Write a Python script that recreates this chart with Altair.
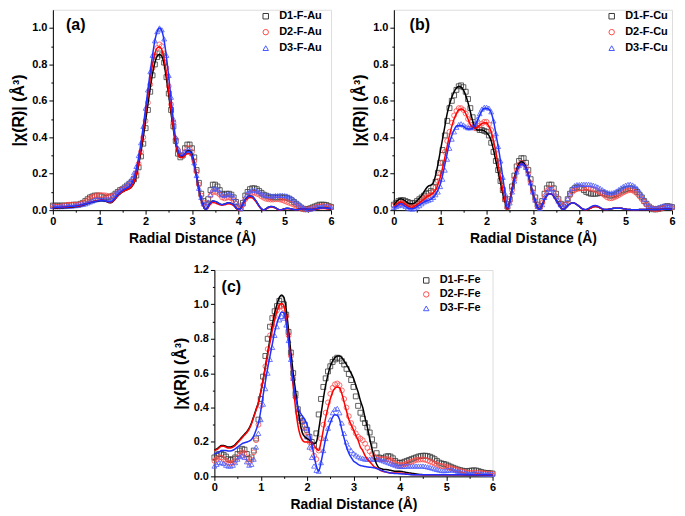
import altair as alt
import pandas as pd

# ---------------- data ----------------
R = [0.00, 0.05, 0.10, 0.15, 0.20, 0.25, 0.30, 0.35, 0.40, 0.45,
     0.50, 0.55, 0.60, 0.65, 0.70, 0.75, 0.80, 0.85, 0.90, 0.95,
     1.00, 1.05, 1.10, 1.15, 1.20, 1.25, 1.30, 1.35, 1.40, 1.45,
     1.50, 1.55, 1.60, 1.65, 1.70, 1.75, 1.80, 1.85, 1.90, 1.95,
     2.00, 2.05, 2.10, 2.15, 2.20, 2.25, 2.30, 2.35, 2.40, 2.45,
     2.50, 2.55, 2.60, 2.65, 2.70, 2.75, 2.80, 2.85, 2.90, 2.95,
     3.00, 3.05, 3.10, 3.15, 3.20, 3.25, 3.30, 3.35, 3.40, 3.45,
     3.50, 3.55, 3.60, 3.65, 3.70, 3.75, 3.80, 3.85, 3.90, 3.95,
     4.00, 4.05, 4.10, 4.15, 4.20, 4.25, 4.30, 4.35, 4.40, 4.45,
     4.50, 4.55, 4.60, 4.65, 4.70, 4.75, 4.80, 4.85, 4.90, 4.95,
     5.00, 5.05, 5.10, 5.15, 5.20, 5.25, 5.30, 5.35, 5.40, 5.45,
     5.50, 5.55, 5.60, 5.65, 5.70, 5.75, 5.80, 5.85, 5.90, 5.95, 6.00]

# ---- panel (a) Au ----
A_NAMES = ["D1-F-Au", "D2-F-Au", "D3-F-Au"]
a_d1 = [0.025, 0.025, 0.025, 0.025, 0.025, 0.025, 0.025, 0.027, 0.028, 0.030,
        0.030, 0.030, 0.035, 0.040, 0.050, 0.060, 0.070, 0.075, 0.080, 0.080,
        0.080, 0.075, 0.070, 0.068, 0.070, 0.075, 0.080, 0.090, 0.100, 0.110,
        0.115, 0.125, 0.135, 0.145, 0.155, 0.170, 0.190, 0.235, 0.295, 0.365,
        0.450, 0.550, 0.650, 0.740, 0.800, 0.840, 0.860, 0.850, 0.810, 0.730,
        0.640, 0.550, 0.460, 0.380, 0.310, 0.290, 0.300, 0.340, 0.360, 0.360,
        0.340, 0.290, 0.220, 0.150, 0.090, 0.050, 0.030, 0.060, 0.110, 0.140,
        0.140, 0.130, 0.110, 0.090, 0.085, 0.090, 0.090, 0.085, 0.070, 0.045,
        0.020, 0.010, 0.040, 0.080, 0.100, 0.115, 0.120, 0.120, 0.115, 0.105,
        0.095, 0.085, 0.080, 0.075, 0.070, 0.070, 0.070, 0.070, 0.070, 0.070,
        0.070, 0.068, 0.063, 0.055, 0.045, 0.035, 0.025, 0.015, 0.008, 0.005,
        0.006, 0.010, 0.015, 0.020, 0.025, 0.030, 0.030, 0.030, 0.028, 0.022, 0.018]
a_d2 = [0.020, 0.020, 0.020, 0.020, 0.022, 0.025, 0.028, 0.030, 0.030, 0.030,
        0.030, 0.030, 0.035, 0.040, 0.045, 0.055, 0.065, 0.072, 0.078, 0.080,
        0.082, 0.082, 0.082, 0.080, 0.077, 0.075, 0.078, 0.085, 0.095, 0.105,
        0.115, 0.120, 0.130, 0.140, 0.155, 0.175, 0.205, 0.255, 0.320, 0.400,
        0.490, 0.590, 0.690, 0.780, 0.850, 0.890, 0.910, 0.900, 0.860, 0.780,
        0.680, 0.580, 0.480, 0.390, 0.330, 0.300, 0.300, 0.320, 0.340, 0.340,
        0.320, 0.270, 0.210, 0.140, 0.080, 0.040, 0.020, 0.040, 0.080, 0.100,
        0.100, 0.095, 0.085, 0.070, 0.065, 0.068, 0.070, 0.065, 0.055, 0.035,
        0.015, 0.008, 0.030, 0.060, 0.080, 0.090, 0.095, 0.095, 0.090, 0.085,
        0.075, 0.068, 0.062, 0.060, 0.058, 0.058, 0.060, 0.060, 0.058, 0.055,
        0.050, 0.045, 0.040, 0.035, 0.030, 0.022, 0.015, 0.010, 0.006, 0.004,
        0.004, 0.006, 0.010, 0.014, 0.018, 0.020, 0.022, 0.022, 0.020, 0.018, 0.016]
a_d3 = [0.020, 0.020, 0.020, 0.020, 0.020, 0.020, 0.022, 0.022, 0.022, 0.025,
        0.025, 0.028, 0.030, 0.032, 0.035, 0.040, 0.045, 0.050, 0.055, 0.058,
        0.060, 0.060, 0.060, 0.058, 0.058, 0.065, 0.075, 0.090, 0.100, 0.110,
        0.120, 0.130, 0.140, 0.155, 0.175, 0.205, 0.240, 0.300, 0.370, 0.460,
        0.560, 0.660, 0.760, 0.850, 0.930, 0.980, 1.000, 0.990, 0.940, 0.850,
        0.740, 0.620, 0.500, 0.400, 0.340, 0.310, 0.310, 0.320, 0.330, 0.330,
        0.310, 0.260, 0.190, 0.120, 0.070, 0.035, 0.020, 0.045, 0.085, 0.115,
        0.120, 0.115, 0.100, 0.085, 0.080, 0.085, 0.090, 0.085, 0.070, 0.045,
        0.020, 0.010, 0.035, 0.070, 0.095, 0.105, 0.110, 0.110, 0.105, 0.100,
        0.090, 0.085, 0.080, 0.080, 0.078, 0.078, 0.080, 0.080, 0.082, 0.082,
        0.080, 0.078, 0.072, 0.065, 0.055, 0.045, 0.035, 0.025, 0.015, 0.008,
        0.005, 0.006, 0.010, 0.014, 0.018, 0.020, 0.022, 0.022, 0.020, 0.018, 0.016]
a_f1 = [0.012, 0.012, 0.012, 0.013, 0.013, 0.014, 0.015, 0.016, 0.017, 0.018,
        0.020, 0.022, 0.025, 0.028, 0.032, 0.036, 0.040, 0.044, 0.047, 0.050,
        0.052, 0.053, 0.052, 0.048, 0.042, 0.040, 0.048, 0.062, 0.078, 0.090,
        0.100, 0.108, 0.113, 0.118, 0.128, 0.150, 0.190, 0.250, 0.320, 0.400,
        0.490, 0.580, 0.670, 0.750, 0.810, 0.845, 0.855, 0.845, 0.800, 0.720,
        0.630, 0.530, 0.440, 0.360, 0.310, 0.290, 0.295, 0.310, 0.325, 0.325,
        0.310, 0.260, 0.190, 0.120, 0.060, 0.020, 0.002, 0.020, 0.040, 0.050,
        0.048, 0.042, 0.034, 0.030, 0.033, 0.038, 0.040, 0.037, 0.028, 0.014,
        0.003, 0.008, 0.035, 0.058, 0.072, 0.078, 0.075, 0.062, 0.043, 0.022,
        0.007, 0.001, 0.008, 0.016, 0.020, 0.019, 0.013, 0.006, 0.001, 0.004,
        0.008, 0.010, 0.009, 0.006, 0.003, 0.002, 0.004, 0.006, 0.007, 0.006,
        0.004, 0.003, 0.004, 0.006, 0.008, 0.010, 0.011, 0.011, 0.010, 0.009, 0.008]
a_f2 = [0.015, 0.015, 0.015, 0.015, 0.016, 0.016, 0.017, 0.018, 0.019, 0.020,
        0.021, 0.023, 0.026, 0.030, 0.034, 0.038, 0.042, 0.046, 0.050, 0.053,
        0.055, 0.056, 0.055, 0.050, 0.044, 0.042, 0.050, 0.064, 0.080, 0.092,
        0.100, 0.107, 0.112, 0.118, 0.130, 0.155, 0.200, 0.260, 0.340, 0.430,
        0.530, 0.630, 0.720, 0.800, 0.860, 0.890, 0.895, 0.880, 0.830, 0.750,
        0.650, 0.550, 0.450, 0.370, 0.310, 0.290, 0.290, 0.300, 0.310, 0.310,
        0.290, 0.240, 0.180, 0.110, 0.055, 0.020, 0.003, 0.015, 0.033, 0.042,
        0.040, 0.035, 0.030, 0.027, 0.029, 0.033, 0.035, 0.032, 0.024, 0.012,
        0.002, 0.007, 0.030, 0.052, 0.065, 0.070, 0.068, 0.056, 0.039, 0.020,
        0.006, 0.001, 0.006, 0.013, 0.017, 0.016, 0.011, 0.005, 0.001, 0.003,
        0.006, 0.008, 0.007, 0.005, 0.003, 0.002, 0.003, 0.005, 0.006, 0.005,
        0.004, 0.003, 0.004, 0.005, 0.007, 0.008, 0.009, 0.009, 0.008, 0.007, 0.006]
a_f3 = [0.015, 0.015, 0.016, 0.016, 0.017, 0.018, 0.019, 0.020, 0.021, 0.022,
        0.024, 0.026, 0.028, 0.031, 0.034, 0.037, 0.041, 0.045, 0.048, 0.051,
        0.053, 0.054, 0.053, 0.050, 0.046, 0.046, 0.055, 0.070, 0.085, 0.097,
        0.107, 0.115, 0.122, 0.130, 0.145, 0.175, 0.225, 0.290, 0.370, 0.460,
        0.560, 0.660, 0.760, 0.850, 0.930, 0.980, 1.000, 0.985, 0.930, 0.840,
        0.730, 0.610, 0.490, 0.390, 0.330, 0.300, 0.300, 0.310, 0.320, 0.320,
        0.300, 0.250, 0.180, 0.110, 0.055, 0.020, 0.003, 0.020, 0.040, 0.050,
        0.048, 0.042, 0.034, 0.030, 0.033, 0.038, 0.040, 0.037, 0.028, 0.014,
        0.003, 0.008, 0.035, 0.058, 0.072, 0.078, 0.075, 0.062, 0.043, 0.022,
        0.007, 0.001, 0.008, 0.016, 0.020, 0.019, 0.013, 0.006, 0.001, 0.004,
        0.008, 0.010, 0.009, 0.006, 0.003, 0.002, 0.004, 0.006, 0.007, 0.006,
        0.005, 0.004, 0.005, 0.007, 0.009, 0.011, 0.012, 0.012, 0.011, 0.010, 0.009]

# ---- panel (b) Cu ----
B_NAMES = ["D1-F-Cu", "D2-F-Cu", "D3-F-Cu"]
b_d1 = [0.030, 0.040, 0.050, 0.055, 0.055, 0.050, 0.045, 0.040, 0.037, 0.040,
        0.050, 0.060, 0.070, 0.080, 0.090, 0.095, 0.105, 0.125, 0.155, 0.205,
        0.260, 0.330, 0.410, 0.490, 0.560, 0.600, 0.630, 0.660, 0.680, 0.685,
        0.675, 0.650, 0.610, 0.560, 0.510, 0.470, 0.450, 0.440, 0.440, 0.435,
        0.430, 0.410, 0.370, 0.320, 0.270, 0.220, 0.160, 0.110, 0.060, 0.020,
        0.060, 0.130, 0.190, 0.240, 0.270, 0.285, 0.285, 0.260, 0.220, 0.170,
        0.120, 0.070, 0.030, 0.020, 0.050, 0.090, 0.120, 0.140, 0.140, 0.120,
        0.090, 0.060, 0.035, 0.020, 0.030, 0.060, 0.090, 0.110, 0.120, 0.125,
        0.125, 0.120, 0.110, 0.100, 0.095, 0.090, 0.090, 0.090, 0.092, 0.095,
        0.095, 0.090, 0.085, 0.080, 0.080, 0.082, 0.088, 0.095, 0.103, 0.110,
        0.115, 0.118, 0.120, 0.118, 0.112, 0.100, 0.085, 0.070, 0.050, 0.035,
        0.020, 0.010, 0.005, 0.004, 0.006, 0.010, 0.015, 0.020, 0.022, 0.020, 0.017]
b_d2 = [0.025, 0.030, 0.035, 0.040, 0.038, 0.032, 0.026, 0.022, 0.020, 0.025,
        0.035, 0.045, 0.055, 0.065, 0.072, 0.078, 0.085, 0.100, 0.125, 0.160,
        0.200, 0.260, 0.320, 0.380, 0.430, 0.480, 0.520, 0.545, 0.560, 0.560,
        0.550, 0.530, 0.500, 0.470, 0.455, 0.450, 0.455, 0.465, 0.475, 0.485,
        0.485, 0.470, 0.440, 0.390, 0.330, 0.260, 0.190, 0.120, 0.060, 0.015,
        0.050, 0.110, 0.170, 0.220, 0.250, 0.260, 0.255, 0.235, 0.200, 0.150,
        0.100, 0.055, 0.020, 0.015, 0.040, 0.075, 0.105, 0.120, 0.120, 0.100,
        0.075, 0.050, 0.030, 0.020, 0.030, 0.055, 0.080, 0.100, 0.110, 0.115,
        0.120, 0.120, 0.120, 0.120, 0.120, 0.118, 0.115, 0.110, 0.105, 0.098,
        0.090, 0.080, 0.070, 0.065, 0.065, 0.070, 0.075, 0.082, 0.090, 0.097,
        0.103, 0.108, 0.110, 0.108, 0.100, 0.090, 0.075, 0.060, 0.045, 0.030,
        0.018, 0.010, 0.006, 0.005, 0.006, 0.008, 0.012, 0.015, 0.017, 0.016, 0.014]
b_d3 = [0.015, 0.020, 0.025, 0.030, 0.028, 0.020, 0.012, 0.008, 0.006, 0.010,
        0.018, 0.025, 0.035, 0.045, 0.050, 0.055, 0.060, 0.070, 0.085, 0.100,
        0.130, 0.170, 0.220, 0.280, 0.340, 0.390, 0.430, 0.455, 0.470, 0.474,
        0.468, 0.458, 0.452, 0.452, 0.458, 0.472, 0.500, 0.530, 0.555, 0.565,
        0.565, 0.560, 0.540, 0.490, 0.420, 0.350, 0.270, 0.180, 0.090, 0.020,
        0.040, 0.100, 0.160, 0.210, 0.245, 0.260, 0.255, 0.235, 0.200, 0.150,
        0.100, 0.055, 0.020, 0.010, 0.030, 0.070, 0.100, 0.115, 0.120, 0.100,
        0.075, 0.050, 0.030, 0.020, 0.035, 0.065, 0.095, 0.120, 0.135, 0.140,
        0.140, 0.142, 0.142, 0.142, 0.142, 0.140, 0.137, 0.133, 0.127, 0.120,
        0.112, 0.104, 0.098, 0.095, 0.095, 0.098, 0.105, 0.113, 0.122, 0.130,
        0.137, 0.141, 0.142, 0.138, 0.130, 0.118, 0.100, 0.080, 0.060, 0.040,
        0.025, 0.015, 0.012, 0.012, 0.015, 0.018, 0.022, 0.025, 0.026, 0.024, 0.020]
b_f1 = [0.030, 0.045, 0.058, 0.062, 0.058, 0.050, 0.040, 0.035, 0.035, 0.040,
        0.050, 0.065, 0.080, 0.100, 0.120, 0.133, 0.138, 0.150, 0.190, 0.250,
        0.320, 0.390, 0.460, 0.530, 0.580, 0.620, 0.650, 0.670, 0.680, 0.675,
        0.660, 0.630, 0.590, 0.540, 0.490, 0.455, 0.440, 0.440, 0.440, 0.435,
        0.425, 0.410, 0.380, 0.330, 0.270, 0.210, 0.150, 0.090, 0.040, 0.005,
        0.050, 0.120, 0.180, 0.225, 0.255, 0.265, 0.260, 0.235, 0.195, 0.145,
        0.095, 0.050, 0.015, 0.005, 0.030, 0.060, 0.080, 0.090, 0.088, 0.075,
        0.055, 0.035, 0.015, 0.003, 0.010, 0.025, 0.035, 0.040, 0.038, 0.030,
        0.020, 0.010, 0.004, 0.002, 0.006, 0.012, 0.018, 0.020, 0.018, 0.012,
        0.006, 0.003, 0.004, 0.006, 0.008, 0.010, 0.011, 0.011, 0.010, 0.008,
        0.006, 0.004, 0.003, 0.002, 0.002, 0.002, 0.003, 0.003, 0.004, 0.004,
        0.004, 0.004, 0.004, 0.004, 0.004, 0.004, 0.005, 0.005, 0.005, 0.005, 0.005]
b_f2 = [0.020, 0.030, 0.040, 0.045, 0.040, 0.030, 0.022, 0.018, 0.016, 0.022,
        0.030, 0.040, 0.050, 0.060, 0.070, 0.078, 0.085, 0.095, 0.110, 0.140,
        0.180, 0.230, 0.290, 0.350, 0.410, 0.460, 0.500, 0.530, 0.550, 0.555,
        0.550, 0.530, 0.500, 0.470, 0.455, 0.450, 0.455, 0.465, 0.475, 0.480,
        0.478, 0.460, 0.430, 0.380, 0.320, 0.250, 0.180, 0.110, 0.050, 0.005,
        0.045, 0.110, 0.170, 0.215, 0.245, 0.255, 0.250, 0.230, 0.190, 0.140,
        0.090, 0.045, 0.012, 0.005, 0.030, 0.060, 0.080, 0.090, 0.088, 0.075,
        0.055, 0.035, 0.015, 0.003, 0.010, 0.025, 0.035, 0.040, 0.038, 0.030,
        0.020, 0.010, 0.004, 0.002, 0.006, 0.012, 0.018, 0.020, 0.018, 0.012,
        0.006, 0.003, 0.004, 0.006, 0.008, 0.010, 0.011, 0.011, 0.010, 0.008,
        0.006, 0.004, 0.003, 0.002, 0.002, 0.002, 0.003, 0.003, 0.004, 0.004,
        0.004, 0.004, 0.004, 0.004, 0.004, 0.004, 0.005, 0.005, 0.005, 0.005, 0.005]
b_f3 = [0.015, 0.020, 0.030, 0.035, 0.030, 0.020, 0.012, 0.008, 0.008, 0.012,
        0.020, 0.028, 0.036, 0.044, 0.050, 0.055, 0.060, 0.070, 0.085, 0.110,
        0.140, 0.190, 0.250, 0.310, 0.370, 0.410, 0.440, 0.460, 0.465, 0.465,
        0.460, 0.450, 0.445, 0.445, 0.450, 0.465, 0.490, 0.520, 0.545, 0.560,
        0.560, 0.555, 0.535, 0.490, 0.420, 0.350, 0.270, 0.180, 0.090, 0.010,
        0.040, 0.100, 0.160, 0.210, 0.240, 0.255, 0.250, 0.230, 0.190, 0.140,
        0.090, 0.045, 0.012, 0.005, 0.030, 0.060, 0.080, 0.090, 0.088, 0.075,
        0.055, 0.035, 0.015, 0.003, 0.010, 0.025, 0.035, 0.040, 0.038, 0.030,
        0.020, 0.010, 0.004, 0.004, 0.010, 0.018, 0.024, 0.026, 0.022, 0.015,
        0.008, 0.004, 0.004, 0.006, 0.008, 0.010, 0.011, 0.011, 0.010, 0.008,
        0.006, 0.004, 0.003, 0.002, 0.002, 0.002, 0.003, 0.003, 0.004, 0.004,
        0.004, 0.004, 0.004, 0.004, 0.004, 0.004, 0.005, 0.005, 0.005, 0.005, 0.005]

# ---- panel (c) Fe ----
C_NAMES = ["D1-F-Fe", "D2-F-Fe", "D3-F-Fe"]
c_d1 = [0.110, 0.120, 0.130, 0.130, 0.125, 0.115, 0.100, 0.095, 0.100, 0.110,
        0.130, 0.150, 0.160, 0.155, 0.130, 0.100, 0.110, 0.150, 0.220, 0.330,
        0.450, 0.580, 0.700, 0.800, 0.870, 0.920, 0.960, 0.990, 1.020, 1.030,
        1.000, 0.940, 0.840, 0.720, 0.600, 0.480, 0.390, 0.340, 0.320, 0.300,
        0.270, 0.230, 0.200, 0.180, 0.250, 0.360, 0.450, 0.520, 0.570, 0.610,
        0.640, 0.665, 0.680, 0.690, 0.685, 0.670, 0.650, 0.625, 0.595, 0.560,
        0.520, 0.465, 0.410, 0.370, 0.335, 0.310, 0.285, 0.255, 0.215, 0.180,
        0.135, 0.110, 0.105, 0.105, 0.115, 0.118, 0.115, 0.105, 0.090, 0.080,
        0.078, 0.080, 0.085, 0.090, 0.095, 0.100, 0.105, 0.110, 0.115, 0.118,
        0.120, 0.120, 0.118, 0.114, 0.108, 0.100, 0.090, 0.080, 0.075, 0.072,
        0.068, 0.062, 0.056, 0.050, 0.045, 0.040, 0.036, 0.033, 0.030, 0.030,
        0.032, 0.034, 0.035, 0.034, 0.030, 0.026, 0.022, 0.020, 0.020, 0.018, 0.016]
c_d2 = [0.090, 0.100, 0.110, 0.110, 0.100, 0.090, 0.080, 0.075, 0.080, 0.090,
        0.110, 0.125, 0.140, 0.135, 0.110, 0.080, 0.095, 0.140, 0.210, 0.300,
        0.410, 0.530, 0.640, 0.740, 0.820, 0.880, 0.930, 0.965, 0.985, 0.990,
        0.975, 0.930, 0.820, 0.700, 0.570, 0.460, 0.370, 0.320, 0.290, 0.260,
        0.230, 0.200, 0.160, 0.120, 0.100, 0.150, 0.220, 0.300, 0.370, 0.430,
        0.480, 0.515, 0.535, 0.540, 0.530, 0.500, 0.450, 0.400, 0.350, 0.310,
        0.280, 0.250, 0.230, 0.220, 0.210, 0.190, 0.165, 0.145, 0.130, 0.115,
        0.105, 0.100, 0.100, 0.100, 0.100, 0.100, 0.095, 0.085, 0.075, 0.068,
        0.065, 0.066, 0.070, 0.075, 0.080, 0.085, 0.090, 0.095, 0.097, 0.098,
        0.098, 0.096, 0.092, 0.086, 0.080, 0.074, 0.068, 0.063, 0.060, 0.058,
        0.056, 0.052, 0.048, 0.044, 0.040, 0.036, 0.032, 0.028, 0.025, 0.022,
        0.020, 0.020, 0.020, 0.020, 0.020, 0.020, 0.018, 0.017, 0.016, 0.015, 0.014]
c_d3 = [0.060, 0.070, 0.080, 0.080, 0.075, 0.065, 0.060, 0.060, 0.065, 0.080,
        0.100, 0.115, 0.120, 0.110, 0.085, 0.065, 0.070, 0.100, 0.170, 0.250,
        0.330, 0.420, 0.510, 0.600, 0.680, 0.750, 0.820, 0.870, 0.910, 0.930,
        0.920, 0.880, 0.790, 0.680, 0.570, 0.470, 0.390, 0.340, 0.320, 0.280,
        0.230, 0.170, 0.110, 0.060, 0.035, 0.030, 0.080, 0.150, 0.220, 0.280,
        0.330, 0.370, 0.390, 0.395, 0.370, 0.310, 0.250, 0.200, 0.170, 0.150,
        0.135, 0.125, 0.115, 0.108, 0.105, 0.100, 0.100, 0.100, 0.100, 0.100,
        0.100, 0.098, 0.095, 0.090, 0.085, 0.080, 0.075, 0.070, 0.065, 0.060,
        0.058, 0.058, 0.058, 0.060, 0.060, 0.060, 0.060, 0.060, 0.060, 0.060,
        0.060, 0.058, 0.055, 0.052, 0.048, 0.044, 0.040, 0.037, 0.034, 0.033,
        0.034, 0.036, 0.038, 0.037, 0.034, 0.030, 0.026, 0.022, 0.020, 0.018,
        0.017, 0.017, 0.017, 0.017, 0.016, 0.015, 0.015, 0.014, 0.014, 0.013, 0.013]
c_f1 = [0.155, 0.160, 0.170, 0.180, 0.180, 0.175, 0.170, 0.170, 0.175, 0.185,
        0.200, 0.215, 0.230, 0.245, 0.260, 0.280, 0.310, 0.350, 0.390, 0.430,
        0.490, 0.560, 0.640, 0.720, 0.800, 0.880, 0.950, 1.000, 1.040, 1.055,
        1.040, 0.970, 0.850, 0.720, 0.600, 0.500, 0.400, 0.310, 0.250, 0.230,
        0.220, 0.210, 0.200, 0.190, 0.200, 0.270, 0.360, 0.450, 0.530, 0.590,
        0.640, 0.670, 0.690, 0.700, 0.700, 0.690, 0.670, 0.650, 0.625, 0.600,
        0.570, 0.530, 0.490, 0.440, 0.400, 0.340, 0.285, 0.220, 0.160, 0.110,
        0.070, 0.050, 0.045, 0.040, 0.040, 0.038, 0.035, 0.032, 0.030, 0.030,
        0.030, 0.028, 0.025, 0.022, 0.020, 0.018, 0.016, 0.014, 0.012, 0.011,
        0.010, 0.010, 0.010, 0.010, 0.010, 0.010, 0.010, 0.010, 0.010, 0.010,
        0.010, 0.010, 0.010, 0.010, 0.010, 0.010, 0.010, 0.010, 0.010, 0.010,
        0.010, 0.010, 0.010, 0.010, 0.010, 0.010, 0.010, 0.010, 0.010, 0.010, 0.010]
c_f2 = [0.150, 0.155, 0.165, 0.175, 0.175, 0.170, 0.165, 0.165, 0.170, 0.180,
        0.195, 0.210, 0.225, 0.240, 0.255, 0.275, 0.305, 0.345, 0.385, 0.430,
        0.490, 0.560, 0.630, 0.710, 0.780, 0.850, 0.910, 0.960, 0.995, 1.005,
        0.990, 0.920, 0.800, 0.660, 0.520, 0.400, 0.300, 0.240, 0.210, 0.200,
        0.200, 0.200, 0.195, 0.180, 0.160, 0.150, 0.200, 0.270, 0.340, 0.400,
        0.450, 0.490, 0.512, 0.520, 0.515, 0.480, 0.430, 0.380, 0.330, 0.300,
        0.270, 0.240, 0.210, 0.170, 0.150, 0.120, 0.100, 0.085, 0.070, 0.055,
        0.050, 0.040, 0.032, 0.028, 0.025, 0.022, 0.020, 0.020, 0.020, 0.020,
        0.020, 0.018, 0.016, 0.014, 0.012, 0.011, 0.010, 0.010, 0.010, 0.010,
        0.010, 0.010, 0.010, 0.010, 0.010, 0.010, 0.010, 0.010, 0.010, 0.010,
        0.010, 0.010, 0.010, 0.010, 0.010, 0.010, 0.010, 0.010, 0.010, 0.010,
        0.010, 0.010, 0.010, 0.010, 0.010, 0.010, 0.010, 0.010, 0.010, 0.010, 0.010]
c_f3 = [0.130, 0.135, 0.140, 0.150, 0.150, 0.150, 0.148, 0.148, 0.152, 0.160,
        0.170, 0.180, 0.190, 0.195, 0.200, 0.205, 0.215, 0.235, 0.270, 0.310,
        0.380, 0.470, 0.550, 0.630, 0.700, 0.770, 0.840, 0.890, 0.930, 0.955,
        0.950, 0.890, 0.780, 0.660, 0.550, 0.460, 0.400, 0.370, 0.350, 0.330,
        0.300, 0.250, 0.190, 0.120, 0.060, 0.030, 0.080, 0.150, 0.220, 0.270,
        0.310, 0.345, 0.358, 0.355, 0.330, 0.270, 0.220, 0.170, 0.135, 0.110,
        0.090, 0.080, 0.070, 0.063, 0.060, 0.057, 0.055, 0.053, 0.052, 0.050,
        0.045, 0.040, 0.035, 0.030, 0.026, 0.022, 0.020, 0.018, 0.017, 0.016,
        0.015, 0.014, 0.013, 0.012, 0.011, 0.010, 0.010, 0.010, 0.010, 0.010,
        0.010, 0.010, 0.010, 0.010, 0.010, 0.010, 0.010, 0.010, 0.010, 0.010,
        0.010, 0.010, 0.010, 0.010, 0.010, 0.010, 0.010, 0.010, 0.010, 0.010,
        0.010, 0.010, 0.010, 0.010, 0.010, 0.010, 0.010, 0.010, 0.010, 0.010, 0.010]

X_TICKS = [0, 0.5, 1, 1.5, 2, 2.5, 3, 3.5, 4, 4.5, 5, 5.5, 6]
Y_TICKS_AB = [0, 0.1, 0.2, 0.3, 0.4, 0.5, 0.6, 0.7, 0.8, 0.9, 1.0]
Y_TICKS_C = [0, 0.1, 0.2, 0.3, 0.4, 0.5, 0.6, 0.7, 0.8, 0.9, 1.0, 1.1, 1.2]

# ---------------- styling ----------------
FONT = "Liberation Sans, Arial, Helvetica, sans-serif"
DATA_COLORS = ["#3a3a3a", "#ff4a4a", "#4a5aff"]
LINE_COLORS = ["#000000", "#ff0000", "#1f30ff"]
SHAPES = ["square", "circle", "triangle-up"]
PANEL_W = 279


def long_df(names, series):
    rows = []
    for name, vals in zip(names, series):
        for r, v in zip(R, vals):
            rows.append({"R": r, "v": v, "series": name})
    return pd.DataFrame(rows)


def make_axes(yticks):
    common = dict(domainColor="black", domainWidth=1, tickColor="black", tickWidth=1,
                  labelFont=FONT, labelFontSize=11, labelFontWeight="bold", labelColor="black",
                  titleFont=FONT, titleFontWeight="bold", titleColor="black",
                  grid=False, labelOverlap=False, labelFlush=False)
    xax = alt.Axis(values=X_TICKS, title="Radial Distance (Å)", titleFontSize=14,
                   labelExpr="datum.value % 1 === 0 ? format(datum.value, 'd') : ''",
                   tickSize={"condition": {"test": "datum.value % 1 === 0", "value": 4}, "value": 2},
                   labelPadding=1, titlePadding=5, **common)
    yax = alt.Axis(values=yticks, title="|χ(R)| (Å³)", titleFontSize=16,
                   labelExpr="round(datum.value * 10) % 2 === 0 ? format(datum.value, '.1f') : ''",
                   tickSize={"condition": {"test": "round(datum.value * 10) % 2 === 0", "value": 4}, "value": 2},
                   labelPadding=2, titlePadding=5, **common)
    return xax, yax


def panel(tag, names, data, fits, ymax, yticks, height, tag_x, tag_y, leg_x, leg_y, row_pad):
    xs = alt.Scale(domain=[0, 6], nice=False, zero=False)
    ys = alt.Scale(domain=[0, ymax], nice=False)
    xax, yax = make_axes(yticks)
    leg = alt.Legend(title=None, orient="none", legendX=leg_x, legendY=leg_y, padding=0,
                     labelFont=FONT, labelFontSize=11, labelFontWeight="bold", labelColor="black",
                     symbolSize=30, symbolStrokeWidth=1, labelOffset=8, rowPadding=row_pad)
    pts = alt.Chart(long_df(names, data)).mark_point(
        filled=False, size=24, strokeWidth=0.8, opacity=1
    ).encode(
        x=alt.X("R:Q", scale=xs, axis=xax),
        y=alt.Y("v:Q", scale=ys, axis=yax),
        color=alt.Color("series:N", scale=alt.Scale(domain=names, range=DATA_COLORS), legend=leg),
        shape=alt.Shape("series:N", scale=alt.Scale(domain=names, range=SHAPES), legend=leg),
    )
    layers = [pts]
    for vals, col in zip(fits, LINE_COLORS):
        df = pd.DataFrame({"R": R[:len(vals)], "v": vals[:len(R)]})
        layers.append(
            alt.Chart(df).mark_line(color=col, strokeWidth=1.5, interpolate="monotone").encode(
                x=alt.X("R:Q", scale=xs, axis=xax),
                y=alt.Y("v:Q", scale=ys, axis=yax),
            )
        )
    txt = alt.Chart(pd.DataFrame({"t": [tag]})).mark_text(
        font=FONT, fontSize=16, fontWeight="bold", color="black", align="center", baseline="middle"
    ).encode(x=alt.value(tag_x), y=alt.value(tag_y), text="t:N")
    layers.append(txt)
    return alt.layer(*layers).properties(width=PANEL_W, height=height)


pa = panel("(a)", A_NAMES, [a_d1, a_d2, a_d3], [a_f1, a_f2, a_f3], 1.1, Y_TICKS_AB, 201, 23, 15, 208, 1, 4)
pb = panel("(b)", B_NAMES, [b_d1, b_d2, b_d3], [b_f1, b_f2, b_f3], 1.1, Y_TICKS_AB, 201, 26, 15, 213, 1, 4)
pc = panel("(c)", C_NAMES, [c_d1, c_d2, c_d3], [c_f1, c_f2, c_f3], 1.2, Y_TICKS_C, 207, 17, 17, 207, 5, 2)

spacer = alt.Chart(pd.DataFrame({"z": [0]})).mark_point(opacity=0).encode(
    x=alt.X("z:Q", axis=None), y=alt.Y("z:Q", axis=None)
).properties(width=119, height=10, view=alt.ViewBackground(strokeOpacity=0))

top = alt.hconcat(pa, pb, spacing=15).resolve_scale(color="independent", shape="independent")
bottom = alt.hconcat(spacer, pc, spacing=0).resolve_scale(color="independent", shape="independent")

chart = alt.vconcat(top, bottom, spacing=17).resolve_scale(
    color="independent", shape="independent"
).properties(
    padding={"left": 2, "top": 0, "right": 0, "bottom": 0}
).configure_view(
    stroke="black", strokeWidth=1
).configure(
    font=FONT, background="white"
)

chart.save("out.html", embed_options={"renderer": "svg", "actions": False})
